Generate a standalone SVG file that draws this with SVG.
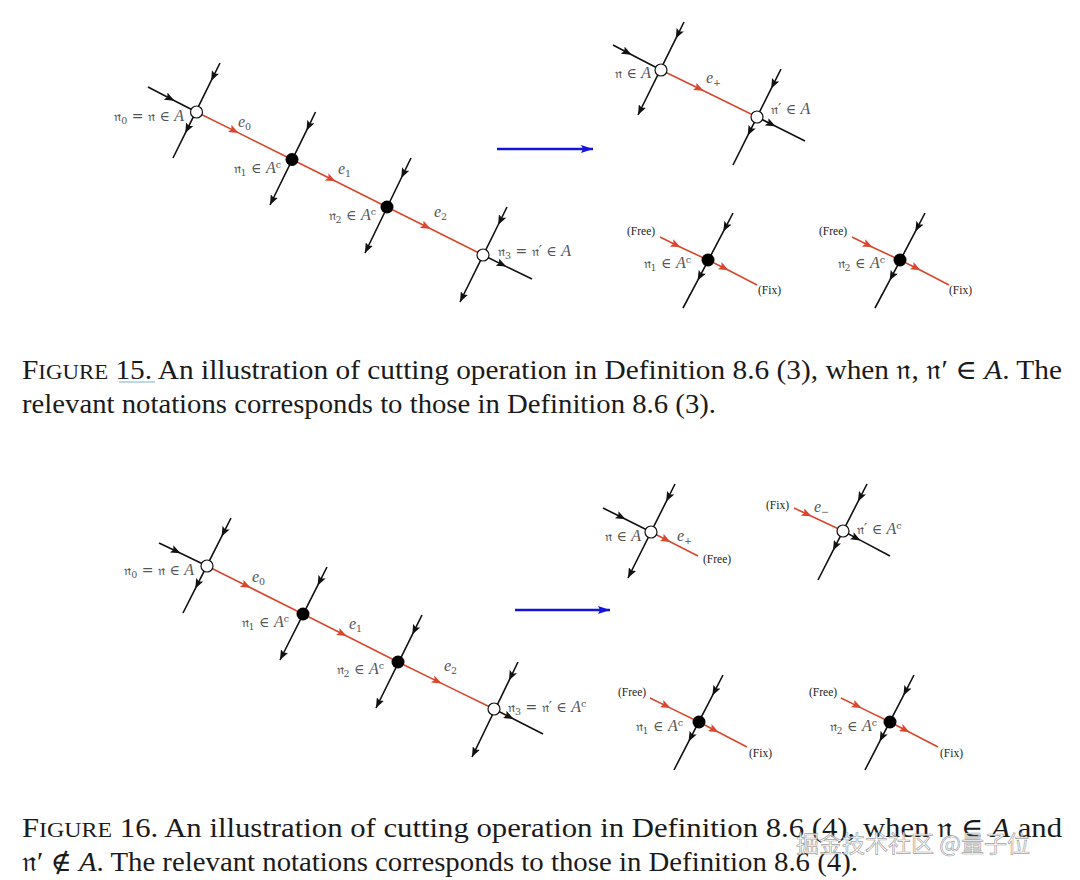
<svg xmlns="http://www.w3.org/2000/svg" width="1080" height="880" viewBox="0 0 1080 880">
<defs>
<style>
.bk{fill:none;stroke:#111;stroke-width:1.6}
.rd{fill:none;stroke:#d9472e;stroke-width:1.6}
.ma{marker-mid:url(#ab)}
.me{marker-end:url(#ab)}
.mr{marker-mid:url(#ar)}
.open{fill:#fff;stroke:#111;stroke-width:1.2}
.full{fill:#000}
.lab{font-family:"DejaVu Serif","Liberation Serif",serif;font-size:14px;fill:#555}
.it{font-family:"Liberation Serif",serif;font-style:italic;font-size:16px}
.sm{font-size:9.5px}
.tag{font-family:"Liberation Serif",serif;font-size:11.5px;fill:#222}
.cap{font-family:"Liberation Serif","DejaVu Serif",serif;font-size:27px;fill:#1a1a1a}
</style>
<marker id="ab" viewBox="0 0 10 8" refX="10" refY="4" markerWidth="10" markerHeight="8" markerUnits="userSpaceOnUse" orient="auto"><path d="M0,0 L10,4 L0,8 L2,4 z" fill="#111"/></marker>
<marker id="ar" viewBox="0 0 10 8" refX="10" refY="4" markerWidth="10" markerHeight="8" markerUnits="userSpaceOnUse" orient="auto"><path d="M0,0 L10,4 L0,8 L2,4 z" fill="#d9472e"/></marker>
<marker id="abl" viewBox="0 0 12 8" refX="12" refY="4" markerWidth="12" markerHeight="8" markerUnits="userSpaceOnUse" orient="auto"><path d="M0,0 L12,4 L0,8 L2,4 z" fill="#1414dc"/></marker>
</defs>
<rect width="1080" height="880" fill="#fff"/>

<g id="connectors">
<!-- Figure 15 left -->
<path class="bk ma" d="M148,87 L174.5,100.7 L196.5,112"/>
<path class="bk ma" d="M220,63 L211.1,80.9 L185.3,133.1 L173,158"/>
<path class="rd mr" d="M196.5,112 L238.6,132.9 L292,159.5"/>
<path class="bk ma me" d="M315.5,112 L306.5,130.6 L270,205"/>
<path class="rd mr" d="M292,159.5 L335.6,181.3 L387,207"/>
<path class="bk ma me" d="M411,158 L401.3,178 L365,253"/>
<path class="rd mr" d="M387,207 L430.6,228.8 L483,255"/>
<path class="bk ma me" d="M507,207 L498.1,225 L460,302"/>
<path class="bk ma" d="M483,255 L506.3,266.6 L532,279"/>
<!-- blue arrow 15 -->
<path d="M497,149 L593,149" fill="none" stroke="#1414dc" stroke-width="2.5" marker-end="url(#abl)"/>
<!-- Figure 15 right top -->
<path class="bk ma" d="M613,45 L631.6,54.7 L661,70"/>
<path class="bk ma me" d="M684,22 L675.8,38.6 L638,115"/>
<path class="rd mr" d="M661,70 L703.6,90.8 L757,117"/>
<path class="bk ma" d="M781,69 L771.2,88.6 L747.7,135.6 L733,165"/>
<path class="bk ma" d="M757,117 L775.6,126.3 L805,141"/>
<!-- Figure 15 bottom pair 1 -->
<path class="rd mr" d="M660,237 L680.6,247.2 L708,260"/>
<path class="rd mr" d="M708,260 L728.6,270.2 L757,285"/>
<path class="bk ma" d="M733,213 L723.3,231.6 L697.6,280.6 L683,308"/>
<!-- Figure 15 bottom pair 2 -->
<g transform="translate(192,0)">
<path class="rd mr" d="M660,237 L680.6,247.2 L708,260"/>
<path class="rd mr" d="M708,260 L728.6,270.2 L757,285"/>
<path class="bk ma" d="M733,213 L723.3,231.6 L697.6,280.6 L683,308"/>
</g>
<!-- Figure 16 left -->
<path class="bk ma" d="M159,543 L180.6,553.3 L207,566"/>
<path class="bk ma" d="M231,518 L221.6,536.6 L195.3,588.6 L183,613"/>
<path class="rd mr" d="M207,566 L250.6,587.8 L303,614"/>
<path class="bk ma me" d="M327,567 L317.6,585.6 L280,660"/>
<path class="rd mr" d="M303,614 L346.6,636 L398,662"/>
<path class="bk ma me" d="M422,615 L412.3,634.6 L376,708"/>
<path class="rd mr" d="M398,662 L441.6,683.4 L494,709"/>
<path class="bk ma me" d="M518,662 L509,680.6 L472,757"/>
<path class="bk ma" d="M494,709 L513.6,719 L543,734"/>
<!-- blue arrow 16 -->
<path d="M515,610 L610,610" fill="none" stroke="#1414dc" stroke-width="2.5" marker-end="url(#abl)"/>
<!-- Figure 16 right top -->
<path class="bk ma" d="M603,508 L625.6,519.2 L651,532"/>
<path class="bk ma me" d="M675,484 L666.2,501.6 L628,578"/>
<path class="rd mr" d="M651,532 L670.6,542 L698,556"/>
<path class="rd mr" d="M794,508 L811.6,516.3 L843,531"/>
<path class="bk ma" d="M867,484 L858,501.6 L833,550.6 L818,580"/>
<path class="bk ma" d="M843,531 L860.6,540.4 L890,556"/>
<!-- Figure 16 bottom pair 1 -->
<path class="rd mr" d="M650,698 L670.6,708.1 L699,722"/>
<path class="rd mr" d="M699,722 L718.6,732.2 L747,747"/>
<path class="bk ma" d="M723,675 L712.4,695.6 L688.6,741.6 L674,770"/>
<!-- Figure 16 bottom pair 2 -->
<g transform="translate(191,0)">
<path class="rd mr" d="M650,698 L670.6,708.1 L699,722"/>
<path class="rd mr" d="M699,722 L718.6,732.2 L747,747"/>
<path class="bk ma" d="M723,675 L712.4,695.6 L688.6,741.6 L674,770"/>
</g>
</g>

<!-- Figure 15 left nodes -->
<g id="f15-n0"><circle class="open" cx="196.5" cy="112" r="6"/>
<text class="lab" x="184" y="121" text-anchor="end">𝔫<tspan class="sm" baseline-shift="-3">0</tspan> = 𝔫 ∈ <tspan class="it">A</tspan></text></g>
<g id="f15-e0"><text class="lab" x="238" y="127"><tspan class="it">e</tspan><tspan class="sm" baseline-shift="-3">0</tspan></text></g>
<g id="f15-n1"><circle class="full" cx="292" cy="159.5" r="6.5"/>
<text class="lab" x="281" y="173" text-anchor="end">𝔫<tspan class="sm" baseline-shift="-3">1</tspan> ∈ <tspan class="it">A</tspan><tspan class="sm" baseline-shift="super">c</tspan></text></g>
<g id="f15-e1"><text class="lab" x="338" y="174"><tspan class="it">e</tspan><tspan class="sm" baseline-shift="-3">1</tspan></text></g>
<g id="f15-n2"><circle class="full" cx="387" cy="207" r="6.5"/>
<text class="lab" x="376" y="220" text-anchor="end">𝔫<tspan class="sm" baseline-shift="-3">2</tspan> ∈ <tspan class="it">A</tspan><tspan class="sm" baseline-shift="super">c</tspan></text></g>
<g id="f15-e2"><text class="lab" x="434" y="217"><tspan class="it">e</tspan><tspan class="sm" baseline-shift="-3">2</tspan></text></g>
<g id="f15-n3"><circle class="open" cx="483" cy="255" r="6"/>
<text class="lab" x="498" y="256">𝔫<tspan class="sm" baseline-shift="-3">3</tspan> = 𝔫′ ∈ <tspan class="it">A</tspan></text></g>

<!-- Figure 15 right top -->
<g id="f15-n"><circle class="open" cx="661" cy="70" r="6"/>
<text class="lab" x="651" y="78" text-anchor="end">𝔫 ∈ <tspan class="it">A</tspan></text></g>
<g id="f15-eplus"><text class="lab" x="706" y="83"><tspan class="it">e</tspan><tspan class="sm" baseline-shift="-3">+</tspan></text></g>
<g id="f15-nprime"><circle class="open" cx="757" cy="117" r="6"/>
<text class="lab" x="771" y="114">𝔫′ ∈ <tspan class="it">A</tspan></text></g>

<!-- Figure 15 bottom pairs -->
<g id="f15-cut1"><circle class="full" cx="708" cy="260" r="6.5"/>
<text class="tag" x="627" y="235">(Free)</text>
<text class="lab" x="691" y="268" text-anchor="end">𝔫<tspan class="sm" baseline-shift="-3">1</tspan> ∈ <tspan class="it">A</tspan><tspan class="sm" baseline-shift="super">c</tspan></text>
<text class="tag" x="758" y="294">(Fix)</text></g>
<g id="f15-cut2"><circle class="full" cx="900" cy="260" r="6.5"/>
<text class="tag" x="819" y="235">(Free)</text>
<text class="lab" x="885" y="268" text-anchor="end">𝔫<tspan class="sm" baseline-shift="-3">2</tspan> ∈ <tspan class="it">A</tspan><tspan class="sm" baseline-shift="super">c</tspan></text>
<text class="tag" x="949" y="294">(Fix)</text></g>

<!-- Figure 16 left -->
<g id="f16-n0"><circle class="open" cx="207" cy="566" r="6"/>
<text class="lab" x="194" y="575" text-anchor="end">𝔫<tspan class="sm" baseline-shift="-3">0</tspan> = 𝔫 ∈ <tspan class="it">A</tspan></text></g>
<g id="f16-e0"><text class="lab" x="252" y="582"><tspan class="it">e</tspan><tspan class="sm" baseline-shift="-3">0</tspan></text></g>
<g id="f16-n1"><circle class="full" cx="303" cy="614" r="6.5"/>
<text class="lab" x="289" y="627" text-anchor="end">𝔫<tspan class="sm" baseline-shift="-3">1</tspan> ∈ <tspan class="it">A</tspan><tspan class="sm" baseline-shift="super">c</tspan></text></g>
<g id="f16-e1"><text class="lab" x="349" y="629"><tspan class="it">e</tspan><tspan class="sm" baseline-shift="-3">1</tspan></text></g>
<g id="f16-n2"><circle class="full" cx="398" cy="662" r="6.5"/>
<text class="lab" x="384" y="674" text-anchor="end">𝔫<tspan class="sm" baseline-shift="-3">2</tspan> ∈ <tspan class="it">A</tspan><tspan class="sm" baseline-shift="super">c</tspan></text></g>
<g id="f16-e2"><text class="lab" x="444" y="671"><tspan class="it">e</tspan><tspan class="sm" baseline-shift="-3">2</tspan></text></g>
<g id="f16-n3"><circle class="open" cx="494" cy="709" r="6"/>
<text class="lab" x="508" y="712">𝔫<tspan class="sm" baseline-shift="-3">3</tspan> = 𝔫′ ∈ <tspan class="it">A</tspan><tspan class="sm" baseline-shift="super">c</tspan></text></g>

<!-- Figure 16 right top -->
<g id="f16-n"><circle class="open" cx="651" cy="532" r="6"/>
<text class="lab" x="641" y="541" text-anchor="end">𝔫 ∈ <tspan class="it">A</tspan></text>
<text class="lab" x="677" y="541"><tspan class="it">e</tspan><tspan class="sm" baseline-shift="-3">+</tspan></text>
<text class="tag" x="703" y="563">(Free)</text></g>
<g id="f16-nprime"><circle class="open" cx="843" cy="531" r="6"/>
<text class="tag" x="766" y="509">(Fix)</text>
<text class="lab" x="814" y="512"><tspan class="it">e</tspan><tspan class="sm" baseline-shift="-3">−</tspan></text>
<text class="lab" x="857" y="534">𝔫′ ∈ <tspan class="it">A</tspan><tspan class="sm" baseline-shift="super">c</tspan></text></g>

<!-- Figure 16 bottom pairs -->
<g id="f16-cut1"><circle class="full" cx="699" cy="722" r="6.5"/>
<text class="tag" x="618" y="696">(Free)</text>
<text class="lab" x="683" y="731" text-anchor="end">𝔫<tspan class="sm" baseline-shift="-3">1</tspan> ∈ <tspan class="it">A</tspan><tspan class="sm" baseline-shift="super">c</tspan></text>
<text class="tag" x="749" y="757">(Fix)</text></g>
<g id="f16-cut2"><circle class="full" cx="890" cy="722" r="6.5"/>
<text class="tag" x="809" y="696">(Free)</text>
<text class="lab" x="877" y="731" text-anchor="end">𝔫<tspan class="sm" baseline-shift="-3">2</tspan> ∈ <tspan class="it">A</tspan><tspan class="sm" baseline-shift="super">c</tspan></text>
<text class="tag" x="940" y="757">(Fix)</text></g>

<!-- Captions -->
<g id="caption15">
<text class="cap" x="22" y="379" textLength="1040" lengthAdjust="spacingAndGlyphs">F<tspan font-size="21">IGURE</tspan> 15. An illustration of cutting operation in Definition 8.6 (3), when 𝔫, 𝔫′ ∈ <tspan font-style="italic">A</tspan>. The</text>
<line x1="119" y1="382" x2="155" y2="382" stroke="#a9cbe3" stroke-width="1.5"/>
<text class="cap" x="22" y="413" textLength="694" lengthAdjust="spacingAndGlyphs">relevant notations corresponds to those in Definition 8.6 (3).</text>
</g>
<g id="caption16">
<text class="cap" x="22" y="837" textLength="1040" lengthAdjust="spacingAndGlyphs">F<tspan font-size="21">IGURE</tspan> 16. An illustration of cutting operation in Definition 8.6 (4), when 𝔫 ∈ <tspan font-style="italic">A</tspan> and</text>
<text class="cap" x="22" y="871" textLength="836" lengthAdjust="spacingAndGlyphs">𝔫′ ∉ <tspan font-style="italic">A</tspan>. The relevant notations corresponds to those in Definition 8.6 (4).</text>
</g>
<g id="watermark">
<text x="796" y="852" font-family="'Noto Sans CJK SC',sans-serif" font-size="23" fill="#ffffff" fill-opacity="0.85" stroke="#777" stroke-width="0.7" stroke-opacity="0.7">掘金技术社区 @量子位</text>
</g>
</svg>
